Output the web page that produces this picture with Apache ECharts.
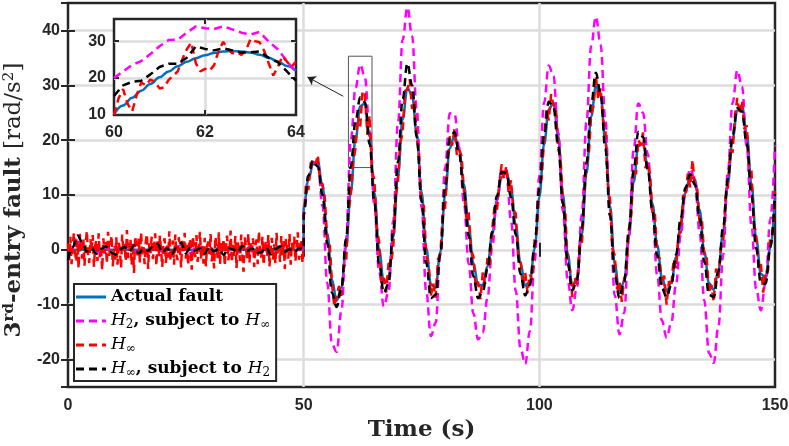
<!DOCTYPE html>
<html>
<head>
<meta charset="utf-8">
<script src="https://cdn.jsdelivr.net/npm/echarts@6/dist/echarts.min.js"></script>
<style>
	html, body { margin: 0; padding: 0; background: #fff; }
	#myEcharts { width: 789px; height: 446px; }
</style>
</head>
<body>
<div id="myEcharts"></div>
<script>
	// series names
	var nameFault = 'Actual fault';
	var nameH2 = 'H2, subject to Hinf';
	var nameHinf = 'Hinf';
	var nameHinfH2 = 'Hinf, subject to H2';

	// time grids (s)
	var steps = function(a, b, h) {
		var out = [];
		for (var i = 0; a + i * h <= b + 1e-9; i++) out.push(+(a + i * h).toFixed(2));
		return out;
	};
	var tPre1 = steps(0, 50, 1), tPost1 = steps(50, 150, 1);
	var tPre025 = steps(0, 50, 0.25), tPost05 = steps(50, 150, 0.5);
	var tInset = steps(60, 64, 0.2), tInsetFine = steps(60, 64, 0.1);

	// actual fault: zero before onset, then 1 s samples 50..150
	var faultPreTime = [0, 50];
	var faultPre = [0, 0];
	var faultPost = [7.7, 12.8, 15.6, 16.1, 11.6, 3.0, -5.4, -9.3, -6.9, 0.5,
		10.6, 20.2, 26.2, 26.7, 20.7, 10.4, 0.1, -5.9, -5.2, 2.3,
		13.4, 23.8, 29.5, 28.2, 21.1, 10.6, 0.3, -6.3, -6.9, -0.4,
		9.9, 18.5, 20.9, 18.1, 11.9, 4.4, -2.4, -6.4, -6.4, -3.0,
		2.8, 8.9, 13.2, 14.3, 11.0, 4.5, -2.4, -6.5, -5.8, 0.2,
		9.6, 19.2, 25.6, 26.8, 20.8, 10.1, -0.6, -6.6, -5.1, 2.7,
		13.9, 24.3, 29.8, 28.2, 19.9, 8.0, -2.6, -7.9, -5.7, 2.4,
		12.3, 18.9, 19.3, 15.2, 8.4, 0.9, -5.0, -7.5, -6.0, -1.4,
		4.7, 10.4, 13.5, 12.8, 7.3, -0.3, -6.1, -7.3, -3.7, 3.4,
		12.2, 20.2, 25.4, 26.2, 21.2, 12.0, 2.1, -4.4, -5.1, 0.3,
		9.7];

	// H2 subject to Hinf (1 s samples)
	var h2Pre = [0.3, -0.5, 2.2, 0.2, -0.3, 0.6, -0.7, 0.1, 0.4, -0.2,
		0.5, -0.6, 0.2, 0.7, -0.4, 0.0, 0.3, -0.8, 0.6, 0.1,
		-0.3, 0.4, -0.5, 0.2, 0.9, -0.1, -0.6, 0.3, 0.5, -0.4,
		0.2, -0.7, 0.6, 0.1, -0.2, 0.4, -0.5, 0.3, 0.7, -0.3,
		0.1, -0.6, 0.5, 0.2, -0.4, 0.6, -0.1, 0.3, -0.5, 0.2,
		0.1];
	var h2Post = [7.0, 13.5, 16.0, 15.8, 8.0, -6.0, -17.2, -18.6, -11.2, 2.0,
		20.0, 29.5, 33.8, 31.4, 21.6, 8.2, -3.9, -10.3, -7.7, 5.2,
		23.1, 38.3, 44.2, 39.0, 25.4, 7.8, -7.6, -15.7, -13.3, -0.7,
		14.9, 24.9, 24.8, 18.7, 8.6, -2.5, -11.6, -16.3, -15.1, -8.8,
		0.4, 9.2, 14.6, 14.1, 5.4, -7.5, -18.0, -20.8, -14.8, -2.0,
		13.5, 26.8, 33.6, 31.7, 21.4, 7.1, -5.4, -11.0, -6.7, 6.5,
		23.3, 37.2, 42.5, 37.4, 23.8, 6.5, -8.3, -15.4, -11.5, 2.4,
		18.2, 26.7, 25.0, 17.5, 6.7, -4.6, -12.9, -16.0, -13.3, -6.3,
		2.7, 10.6, 14.8, 12.8, 3.3, -9.3, -18.8, -20.6, -13.9, -0.9,
		14.3, 26.8, 32.7, 29.8, 18.9, 4.5, -7.1, -11.0, -6.0, 5.5,
		19.1];

	// Hinf: 0.25 s samples before onset, 0.5 s after
	var hinfPre = [1.2, -1.9, 2.4, -2.6, 0.8, 3.1, -0.5, -2.2, 1.7, -3.4,
		2.9, 0.3, -1.6, 2.2, -2.9, 1.0, 3.5, -0.9, -2.4, 1.9,
		-0.2, 2.7, -3.1, 0.6, 1.8, -2.0, 3.0, -1.3, 0.4, -3.7,
		2.1, -0.7, 1.4, -2.5, 3.3, -1.1, 0.9, 2.6, -3.0, 0.2,
		-1.8, 2.3, -2.7, 1.5, 0.1, -3.3, 2.8, -0.4, 1.1, -2.1,
		3.6, -1.5, -0.3, 2.0, -2.8, 1.3, -4.2, 2.5, 0.7, -1.0,
		2.2, -2.3, 3.2, -0.8, 0.5, -2.6, 1.6, 2.9, -3.5, 1.2,
		-0.6, 2.4, -1.7, 0.3, 3.0, -2.9, 1.8, -1.2, 2.6, -0.1,
		-3.1, 1.4, 2.1, -2.4, 0.8, -1.4, 3.4, -2.0, 0.2, 1.7,
		-2.7, 2.8, -0.9, -1.9, 2.3, 0.4, -3.2, 1.9, -0.5, 3.1,
		-1.6, 0.9, -2.8, 2.0, 1.3, -3.6, 2.5, -0.2, -1.3, 2.7,
		-2.2, 0.6, 3.3, -1.8, 1.0, -2.5, 2.2, -3.0, 0.7, 1.5,
		-0.8, 2.9, -2.1, 0.0, -3.4, 2.4, 1.1, -1.5, 3.2, -2.6,
		1.6, -0.6, 2.0, -2.9, 0.5, 2.6, -1.9, -0.4, 3.5, -2.3,
		0.9, -1.1, 2.5, -3.3, 1.4, 0.2, -2.0, 2.8, -1.4, -4.0,
		2.3, 0.6, -1.7, 3.0, -2.4, 1.2, -0.3, 2.1, -3.1, 0.8,
		1.9, -2.6, 3.4, -0.7, -1.5, 2.4, -2.8, 0.4, 1.7, -1.2,
		2.7, -3.0, 0.3, 2.2, -1.9, 1.0, -2.5, 3.1, -0.9, 0.6,
		-2.2, 2.5, -1.0, 1.6, -3.5, 2.0, 0.1, -1.6, 2.9, -2.7,
		1.3, -0.5, 2.4, -2.1, 0.7, 3.2, -1.8, -0.6, 1.9, -2.4,
		0.8];
	var hinfPost = [5.5, 12.0, 10.9, 15.8, 16.3, 15.4, 17.3, 12.3, 12.0, 9.4,
		1.8, 1.6, -6.0, -10.3, -8.2, -6.6, -8.4, -3.2, -2.3, 6.9,
		10.0, 16.0, 18.5, 24.5, 22.5, 29.0, 28.5, 21.0, 24.5, 14.3,
		12.8, 4.1, 1.5, -6.1, -5.1, -7.8, -2.5, -2.5, 0.3, 9.5,
		12.3, 19.5, 21.4, 29.0, 29.2, 31.1, 25.7, 27.1, 20.4, 17.0,
		8.4, 8.0, -1.1, -2.6, -8.3, -6.1, -8.7, -1.7, -0.8, 6.3,
		7.6, 15.1, 20.7, 19.0, 22.0, 17.3, 18.3, 17.1, 10.9, 5.8,
		7.0, 0.0, -1.2, -6.7, -5.8, -9.0, -4.1, -6.2, -1.5, -2.8,
		3.7, 7.9, 7.2, 11.7, 15.6, 12.9, 15.3, 10.6, 12.7, 7.3,
		6.6, -1.2, -1.7, -6.6, -4.1, -7.9, -4.5, -5.5, 2.0, 3.7,
		11.8, 13.0, 20.0, 25.6, 23.6, 28.4, 26.3, 26.3, 18.4, 16.8,
		8.7, 7.1, -2.4, -3.6, -8.6, -5.1, -6.3, 0.8, 0.6, 9.1,
		15.7, 17.3, 24.7, 26.3, 31.7, 27.4, 29.5, 23.7, 22.3, 12.1,
		9.1, 0.2, -1.0, -7.2, -5.7, -9.5, -5.2, -4.0, 3.8, 6.4,
		14.8, 13.8, 20.1, 19.1, 21.4, 14.9, 16.1, 13.7, 6.8, 7.0,
		-1.3, -1.5, -6.4, -4.7, -10.0, -5.7, -6.6, -1.7, -3.4, 2.7,
		3.2, 10.0, 9.5, 13.9, 11.4, 16.4, 11.6, 11.1, 4.9, 5.4,
		-1.4, -1.3, -7.9, -6.4, -9.5, -3.4, -5.1, 0.3, 1.1, 9.6,
		11.4, 18.3, 17.7, 24.5, 27.7, 24.7, 27.2, 22.0, 22.7, 15.6,
		14.4, 4.9, 3.0, -3.3, -2.4, -7.8, -3.7, -3.9, 2.5, 2.8,
		10.7];

	// Hinf subject to H2 (1 s samples)
	var hinfH2Pre = [-1.8, 0.5, 2.6, 1.5, -0.3, 0.3, -0.7, 0.2, 0.6, -0.4,
		-0.9, 0.1, 0.5, -0.3, 0.8, -0.6, 0.2, -0.2, 0.7, 1.1,
		-0.5, 0.3, -0.8, 0.4, 1.3, -0.6, 0.5, -0.1, 0.3, -0.7,
		0.6, -0.3, 0.2, -0.9, 0.4, 0.1, -0.5, 0.7, -0.2, 0.3,
		-0.6, -0.4, 0.5, -0.8, 0.2, 0.6, -0.3, 0.1, -0.5, 0.3,
		0.2];
	var hinfH2Post = [6.5, 13.5, 16.3, 15.2, 10.0, 1.2, -7.8, -10.4, -7.0, 2.0,
		15.2, 23.5, 27.8, 26.9, 19.3, 8.6, -2.5, -7.8, -6.2, 3.5,
		16.0, 27.5, 34.0, 30.0, 20.5, 8.9, -2.4, -8.8, -8.2, -0.8,
		11.5, 20.3, 21.5, 17.5, 10.4, 2.6, -4.8, -8.8, -7.6, -3.5,
		3.3, 9.8, 14.2, 14.0, 9.6, 2.8, -4.4, -8.3, -6.4, 0.8,
		11.2, 21.0, 27.0, 26.0, 19.0, 8.4, -2.4, -7.4, -5.5, 3.9,
		15.8, 26.6, 32.3, 28.5, 18.5, 6.2, -4.6, -8.8, -5.8, 3.6,
		14.5, 21.5, 20.6, 14.7, 7.0, -1.0, -7.0, -8.6, -6.4, -0.9,
		5.8, 11.3, 13.8, 11.9, 5.8, -2.2, -8.2, -8.6, -3.9, 4.2,
		13.0, 21.0, 25.8, 25.2, 19.4, 10.0, 0.3, -6.0, -6.2, 0.5,
		10.2];

	// inset detail, 60..64 s
	var insetFault = [10.2, 12.6, 14.7, 16.6, 18.4, 20.2, 21.8, 23.2, 24.4, 25.4, 26.2,
		26.8, 27.2, 27.3, 27.2, 26.9, 26.3, 25.5, 24.5, 23.3, 22.0];
	var insetH2 = [20.0, 21.8, 23.6, 24.6, 26.5, 28.6, 30.3, 30.4, 32.3, 34.0, 33.5,
		33.3, 34.0, 33.2, 32.3, 31.8, 32.5, 29.9, 27.8, 24.6, 21.6];
	var insetHinf = [10.0, 14.5, 17.0, 13.0, 11.0, 15.5, 18.8, 18.0, 19.6, 19.0,
		17.2, 17.5, 19.5, 20.6, 21.8, 25.0, 27.8, 29.6, 24.0, 21.8,
		22.5, 22.0, 23.5, 27.4, 29.8, 28.0, 26.7, 27.0, 26.3, 27.5,
		30.6, 30.0, 29.7, 27.4, 24.0, 20.7, 23.0, 25.9, 24.5, 23.0,
		24.5];
	var insetHinfH2 = [15.2, 18.0, 19.0, 19.3, 21.0, 23.0, 23.9, 23.9, 25.5, 28.6, 27.9,
		27.5, 28.1, 27.5, 26.9, 27.0, 27.2, 25.5, 24.3, 21.8, 19.3];

	// zoom window [x0, x1, y0, y1] and arrow [xFrom, yFrom, xTo, yTo]
	var zoomBox = [59.5, 64.5, 15, 35.3];
	var zoomArrow = [58.4, 28, 50.8, 31.5];

	var pairs = function(ts, vs) {
		return ts.map(function(t, i) { return [t, vs[i]]; });
	};

	var ink = '#262626';
	var gridGrey = '#dcdcdc';
	var dash = [8, 5];
	// legend glyphs: solid bar, or dashes ending in a dot
	var iconSolid = 'path://M0,0h30v2.5h-30z';
	var iconDashed = 'path://M0,0h8v2.5h-8zM13,0h8v2.5h-8zM26,0h4v2.5h-4z';

	var axisOf = function(kind, gridIndex, pos, min, max, step, labels, z, labelMargin, tickLen) {
		var ax = {
			type: 'value',
			gridIndex: gridIndex,
			position: pos,
			min: min,
			max: max,
			z: z,
			axisLine: { show: false },
			axisTick: { show: true, inside: true, length: tickLen, lineStyle: { color: ink, width: 2 } },
			axisLabel: {
				show: labels,
				margin: labelMargin,
				showMinLabel: kind === 'x' || min % 10 === 0,
				showMaxLabel: kind === 'x',
				fontFamily: 'Liberation Sans',
				fontWeight: 'bold',
				fontSize: 16,
				color: ink
			},
			splitLine: {
				show: labels,
				showMinLine: false,
				showMaxLine: false,
				lineStyle: { color: gridGrey, width: 2.5 }
			}
		};
		if (kind === 'x') ax.interval = step;
		else if (min % 10 === 0) ax.interval = 10;
		else ax.splitNumber = step;
		return ax;
	};

	var xAxes = [
		axisOf('x', 0, 'bottom', 0, 150, 50, true, 0, 11, 7),
		axisOf('x', 0, 'top', 0, 150, 50, false, 0, 11, 7),
		axisOf('x', 1, 'bottom', 60, 64, 2, true, 11, 10, 5),
		axisOf('x', 1, 'top', 60, 64, 2, false, 11, 10, 5)
	];
	xAxes[0].name = 'Time (s)';
	xAxes[0].nameLocation = 'middle';
	xAxes[0].nameGap = 32;
	xAxes[0].nameTextStyle = { fontFamily: 'DejaVu Serif', fontWeight: 'bold', fontSize: 23, color: ink };

	var yAxes = [
		axisOf('y', 0, 'left', -25, 45, 7, true, 0, 8, 7),
		axisOf('y', 0, 'right', -25, 45, 7, false, 0, 8, 7),
		axisOf('y', 1, 'left', 10, 36, 10, true, 11, 8, 5),
		axisOf('y', 1, 'right', 10, 36, 10, false, 11, 8, 5)
	];
	yAxes[0].name = '{m|3}{p|rd}{m|-entry fault }{u|[rad/s}{q|2}{u|]}';
	yAxes[0].nameLocation = 'middle';
	yAxes[0].nameGap = 38;
	yAxes[0].nameTextStyle = {
		padding: [0, 10, 0, 0],
		rich: {
			m: { fontFamily: 'DejaVu Serif', fontWeight: 'bold', fontSize: 23, lineHeight: 26, color: ink },
			u: { fontFamily: 'DejaVu Serif', fontSize: 23, lineHeight: 26, color: ink },
			p: { fontFamily: 'DejaVu Serif', fontWeight: 'bold', fontSize: 15, lineHeight: 10, verticalAlign: 'top', color: ink },
			q: { fontFamily: 'DejaVu Serif', fontSize: 15, lineHeight: 10, verticalAlign: 'top', color: ink }
		}
	};

	var legendText = {};
	legendText[nameFault] = '{b|Actual fault}';
	legendText[nameH2] = '{i|H}{s|2}{b|, subject to }{i|H}{s|∞}';
	legendText[nameHinf] = '{i|H}{s|∞}';
	legendText[nameHinfH2] = '{i|H}{s|∞}{b|, subject to }{i|H}{s|2}';

	var lineSeries = function(name, color, data, dashed, smooth, xi, yi, z) {
		return {
			name: name,
			type: 'line',
			xAxisIndex: xi,
			yAxisIndex: yi,
			z: z,
			data: data,
			symbol: 'none',
			showSymbol: false,
			smooth: smooth,
			smoothMonotone: 'x',
			clip: true,
			silent: true,
			lineStyle: { color: color, width: 2.5, type: dashed ? dash : 'solid' },
			itemStyle: { color: color }
		};
	};

	var series = [
		lineSeries(nameFault, '#0072BD', pairs(faultPreTime, faultPre).concat(pairs(tPost1, faultPost)), false, 0.4, 0, 0, 2),
		lineSeries(nameH2, '#FF00FF', pairs(tPre1, h2Pre).concat(pairs(tPost1, h2Post)), true, 0.4, 0, 0, 2),
		lineSeries(nameHinf, '#FF0000', pairs(tPre025, hinfPre).concat(pairs(tPost05, hinfPost)), true, false, 0, 0, 2),
		lineSeries(nameHinfH2, '#000000', pairs(tPre1, hinfH2Pre).concat(pairs(tPost1, hinfH2Post)), true, 0.4, 0, 0, 2),
		lineSeries(nameFault, '#0072BD', pairs(tInset, insetFault), false, 0.4, 2, 2, 12),
		lineSeries(nameH2, '#FF00FF', pairs(tInset, insetH2), true, false, 2, 2, 12),
		lineSeries(nameHinf, '#FF0000', pairs(tInsetFine, insetHinf), true, false, 2, 2, 12),
		lineSeries(nameHinfH2, '#000000', pairs(tInset, insetHinfH2), true, false, 2, 2, 12)
	];

	// zoom window and arrow on the main axes
	series[0].markArea = {
		silent: true,
		itemStyle: { color: 'rgba(0,0,0,0)', borderColor: '#555', borderWidth: 1 },
		data: [[{ coord: [zoomBox[0], zoomBox[3]] }, { coord: [zoomBox[1], zoomBox[2]] }]]
	};
	series[0].markLine = {
		silent: true,
		symbol: ['none', 'arrow'],
		symbolSize: 8,
		label: { show: false },
		lineStyle: { color: '#222', width: 1, type: 'solid' },
		data: [[{ coord: [zoomArrow[0], zoomArrow[1]] }, { coord: [zoomArrow[2], zoomArrow[3]] }]]
	};

	var myChart = echarts.init(document.getElementById('myEcharts'), null, { renderer: 'canvas' });
	var option = {
		animation: false,
		backgroundColor: '#fff',
		grid: [{
			left: 68, top: 3, width: 707, height: 384,
			outerBoundsMode: 'none',
			show: true, backgroundColor: '#fff', borderColor: ink, borderWidth: 2.5, z: 0
		}, {
			left: 114, top: 19, width: 182, height: 96,
			outerBoundsMode: 'none',
			show: true, backgroundColor: '#fff', borderColor: ink, borderWidth: 2.5, z: 10
		}],
		legend: {
			data: [
				{ name: nameFault, icon: iconSolid },
				{ name: nameH2, icon: iconDashed },
				{ name: nameHinf, icon: iconDashed },
				{ name: nameHinfH2, icon: iconDashed }
			],
			orient: 'vertical',
			left: 74,
			top: 284,
			z: 20,
			itemWidth: 30,
			itemHeight: 3,
			itemGap: 4,
			symbolKeepAspect: false,
			padding: [3, 6, 2, 2],
			backgroundColor: '#fff',
			borderColor: ink,
			borderWidth: 2,
			borderRadius: 0,
			selectedMode: false,
			itemStyle: { borderWidth: 0 },
			formatter: function(name) { return legendText[name]; },
			textStyle: {
				lineHeight: 20,
				rich: {
					b: { fontFamily: 'DejaVu Serif', fontWeight: 'bold', fontSize: 17, lineHeight: 20, color: '#000' },
					i: { fontFamily: 'DejaVu Serif', fontStyle: 'italic', fontSize: 17, lineHeight: 20, color: '#000' },
					s: { fontFamily: 'DejaVu Serif', fontSize: 12, lineHeight: 8, verticalAlign: 'bottom', color: '#000' }
				}
			}
		},
		xAxis: xAxes,
		yAxis: yAxes,
		series: series
	};
	myChart.setOption(option, true);
</script>
</body>
</html>
